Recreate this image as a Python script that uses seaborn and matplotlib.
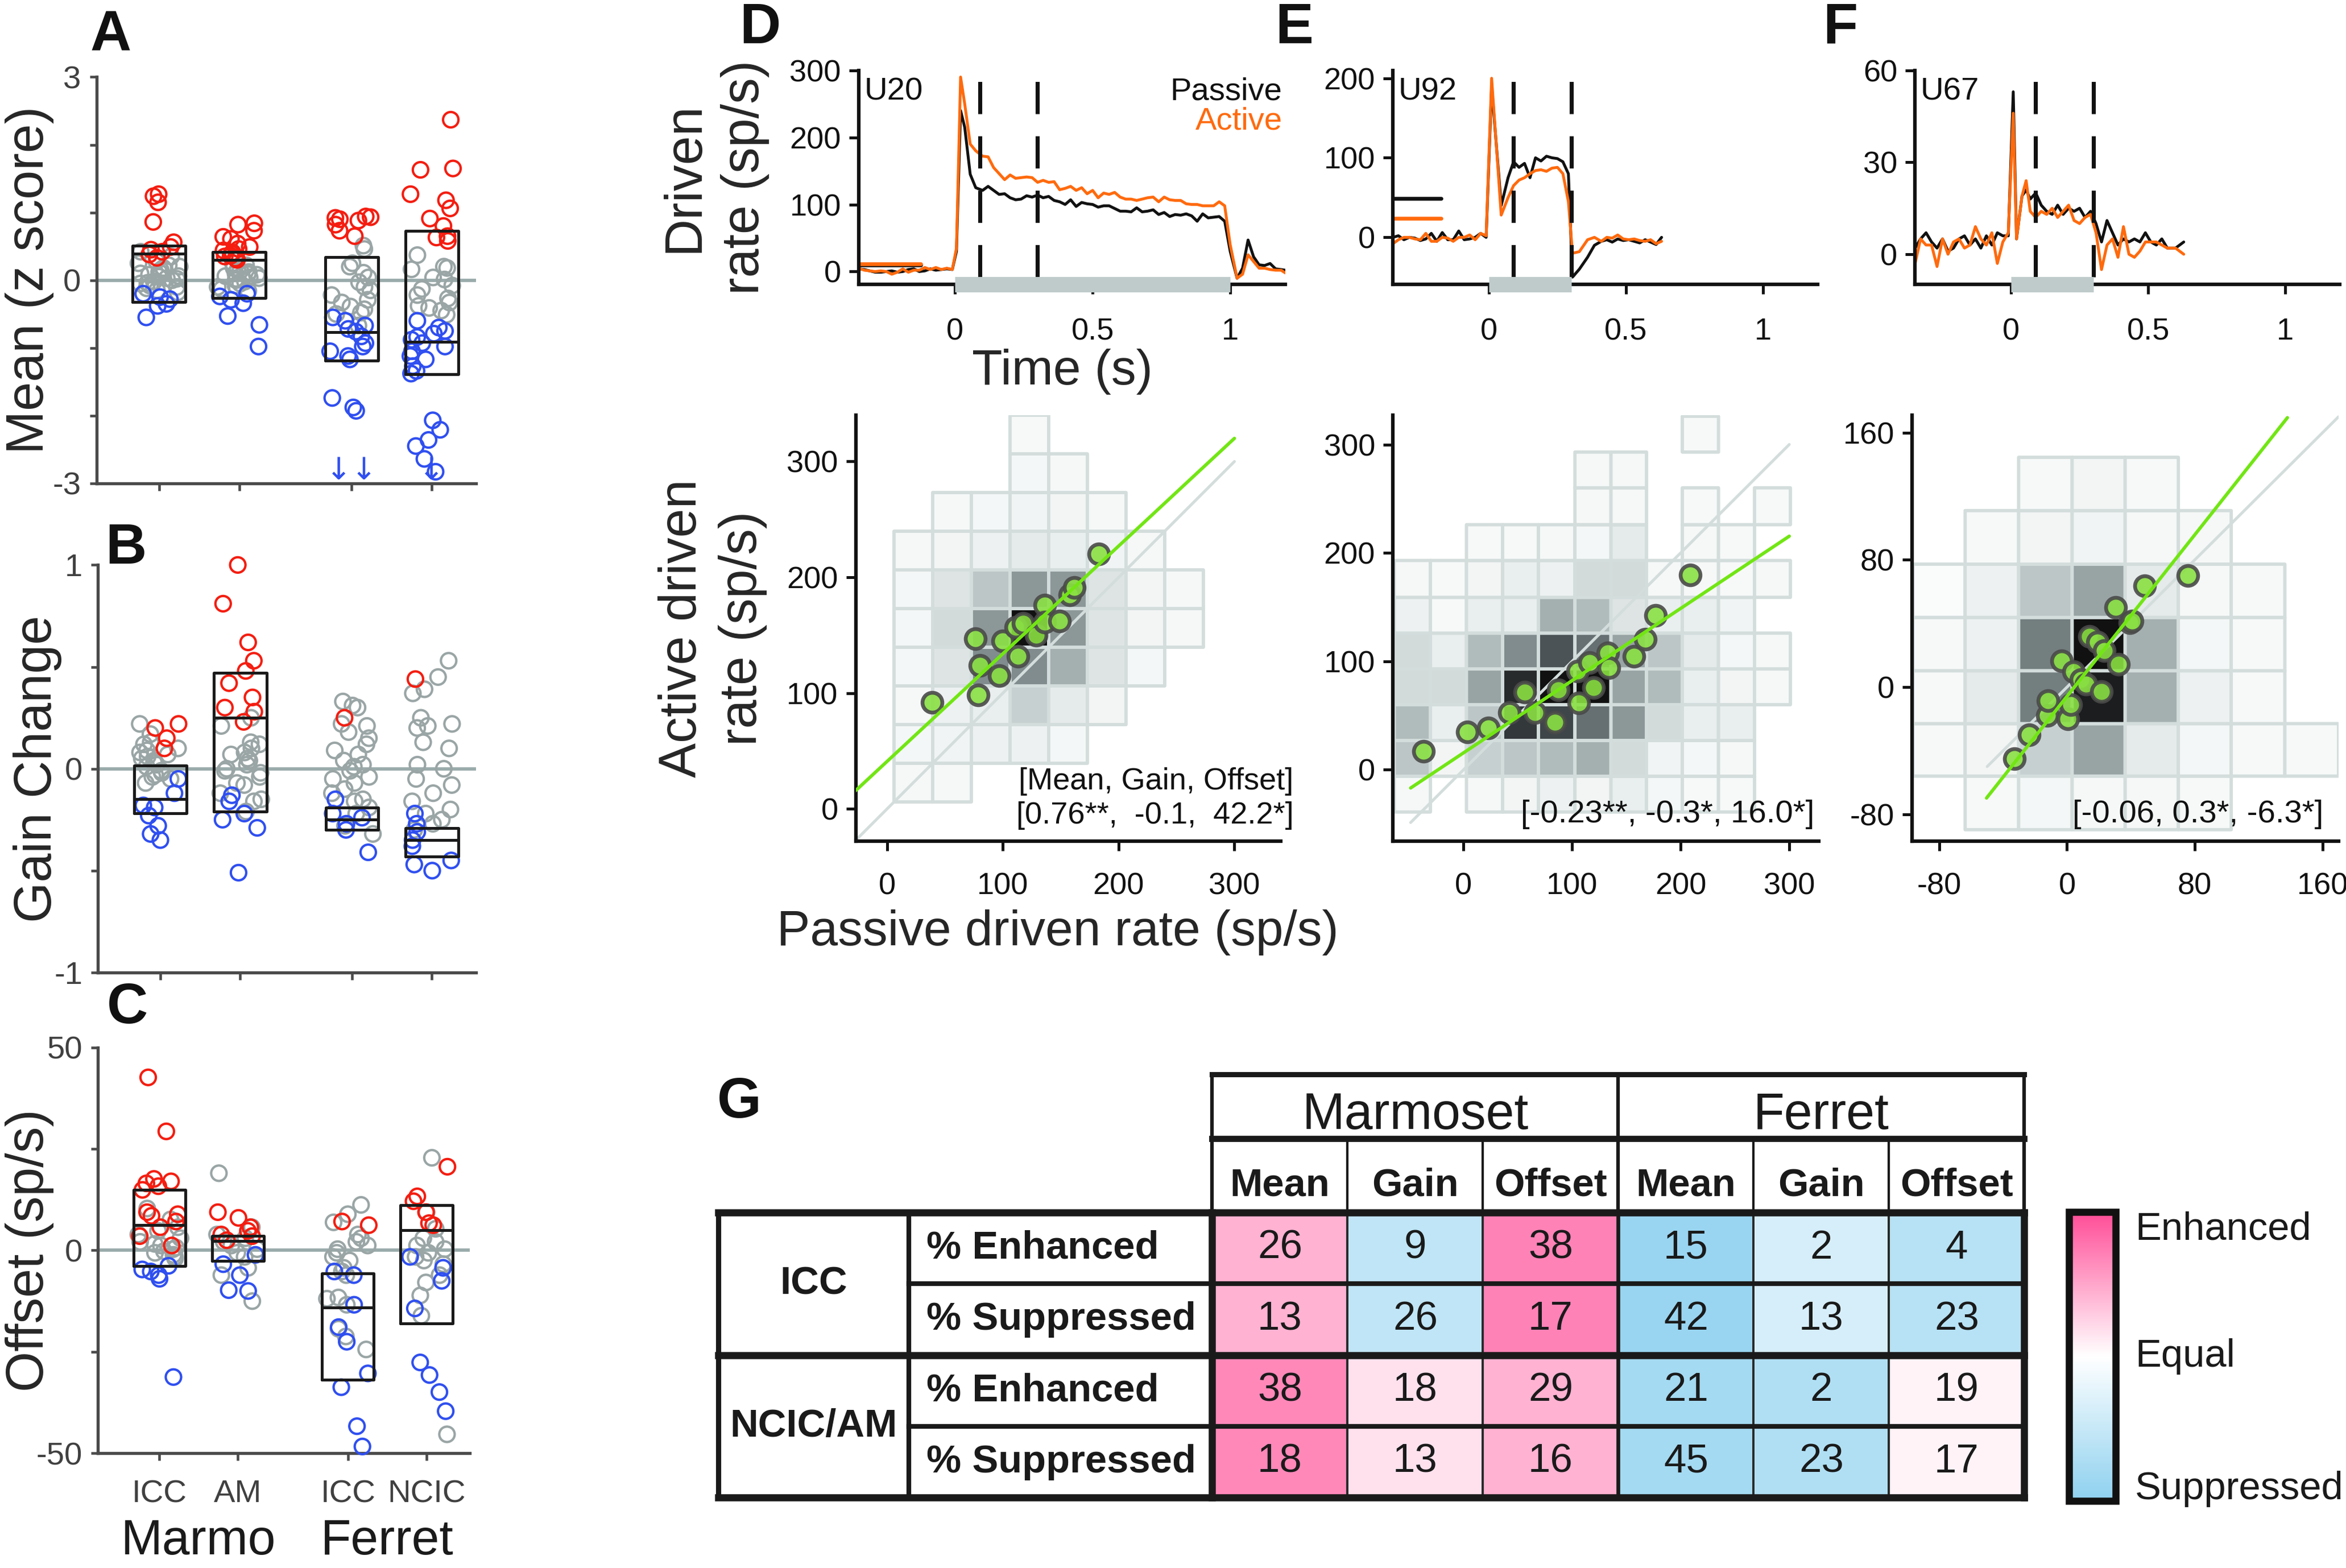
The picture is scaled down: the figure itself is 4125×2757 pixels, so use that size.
import numpy as np
import pandas as pd
import matplotlib
matplotlib.use('Agg')
from matplotlib import pyplot as plt
from matplotlib.colors import LinearSegmentedColormap, Normalize
from matplotlib.cm import ScalarMappable
import matplotlib.transforms as mtransforms
import seaborn as sns

np.random.seed(7)

# ---------------- data: panels A-C (per-neuron changes) ----------------
group_pos = [1, 2, 3.4, 4.4]
group_labels = ['ICC', 'AM', 'ICC', 'NCIC']
species = ['Marmo', 'Ferret']

a_up = [[1.27, 1.24, 1.15, 0.86, 0.56, 0.49, 0.45, 0.42, 0.38, 0.33],
        [0.84, 0.82, 0.73, 0.64, 0.61, 0.54, 0.49, 0.46, 0.44, 0.41, 0.39, 0.36, 0.35, 0.32, 0.3],
        [0.94, 0.93, 0.92, 0.9, 0.88, 0.82, 0.73, 0.65],
        [2.37, 1.65, 1.63, 1.27, 1.18, 1.06, 0.91, 0.8, 0.65, 0.63, 0.58]]
a_ns = [[0.42, 0.35, 0.28, 0.22, 0.2, 0.15, 0.12, 0.1, 0.08, 0.05, 0.03, 0.0, -0.02, -0.05, -0.08,
         -0.1, -0.12, -0.15, -0.18, 0.25, 0.18, 0.06, -0.04, 0.1, 0.02],
        [0.25, 0.22, 0.18, 0.15, 0.12, 0.1, 0.08, 0.06, 0.04, 0.02, 0.0, -0.02, -0.05, -0.08, -0.1,
         -0.13, -0.16, 0.14, 0.09, 0.03],
        [0.51, 0.46, 0.25, 0.2, 0.11, 0.04, -0.03, -0.1, -0.15, -0.22, -0.29, -0.33, -0.39, -0.43,
         -0.48, -0.5, -0.67],
        [0.37, 0.2, 0.18, 0.16, 0.04, 0.01, -0.08, -0.13, -0.22, -0.27, -0.33, -0.38, -0.41, -0.45, -0.51]]
a_dn = [[-0.2, -0.25, -0.28, -0.35, -0.38, -0.55],
        [-0.2, -0.24, -0.29, -0.34, -0.53, -0.66, -0.98],
        [-0.55, -0.6, -0.67, -0.72, -0.76, -0.83, -0.93, -0.98, -1.05, -1.12, -1.17, -1.74, -1.88, -1.93],
        [-0.6, -0.7, -0.75, -0.79, -0.84, -0.88, -0.93, -0.98, -1.05, -1.12, -1.17, -1.27, -1.34, -1.38,
         -2.07, -2.21, -2.36, -2.45, -2.64, -2.83]]
a_q1 = [-0.32, -0.26, -1.19, -1.39]
a_med = [0.39, 0.30, -0.77, -0.91]
a_q3 = [0.51, 0.42, 0.34, 0.73]
a_offscale = [0, 0, 2, 1]

b_up = [[0.22, 0.2, 0.15, 0.1],
        [1.0, 0.81, 0.62, 0.53, 0.48, 0.42, 0.35, 0.3, 0.28, 0.23],
        [0.25],
        [0.44]]
b_ns = [[0.22, 0.17, 0.13, 0.12, 0.1, 0.08, 0.07, 0.05, 0.04, 0.02, 0.01, -0.01, -0.02, -0.04, -0.05,
         -0.07, 0.09, 0.03, -0.03, 0.06],
        [0.25, 0.21, 0.13, 0.12, 0.08, 0.07, 0.05, 0.04, 0.02, -0.01, -0.02, -0.04, -0.07, -0.08, -0.12,
         -0.15, -0.16, -0.21, 0.1, 0.0],
        [0.33, 0.31, 0.3, 0.22, 0.21, 0.18, 0.15, 0.12, 0.09, 0.07, 0.04, 0.02, 0.01, -0.01, -0.04, -0.05,
         -0.07, -0.1, -0.12, -0.15, -0.16, -0.19, -0.22, -0.28, -0.32],
        [0.53, 0.45, 0.39, 0.37, 0.25, 0.22, 0.21, 0.2, 0.13, 0.1, 0.02, 0.0, -0.05, -0.08, -0.12, -0.16,
         -0.2, -0.22, -0.25, -0.27, -0.3]]
b_dn = [[-0.05, -0.12, -0.18, -0.19, -0.23, -0.28, -0.32, -0.35],
        [-0.13, -0.16, -0.22, -0.25, -0.29, -0.51],
        [-0.15, -0.22, -0.24, -0.27, -0.3, -0.41],
        [-0.22, -0.27, -0.31, -0.35, -0.38, -0.45, -0.47, -0.5]]
b_q1 = [-0.22, -0.21, -0.30, -0.43]
b_med = [-0.15, 0.25, -0.25, -0.35]
b_q3 = [0.015, 0.47, -0.19, -0.29]

c_up = [[42.6, 29.3, 17.6, 17.0, 16.5, 15.8, 14.9, 9.4, 8.9, 8.5, 7.1, 5.7, 3.5, 1.2],
        [9.4, 8.0, 5.7, 4.8, 3.9, 3.5, 2.5],
        [7.1, 6.2],
        [20.6, 13.3, 12.1, 9.4, 6.7, 6.2]]
c_ns = [[10.3, 7.6, 5.7, 4.8, 3.9, 3.0, 2.1, 1.6, 1.2, 0.7, 0.3, -0.2, -0.6, -1.1, -1.6, -2.0],
        [19.0, 5.7, 3.9, 3.0, 2.1, 1.2, 0.3, -0.6, -1.6, -4.3, -6.1, -12.5],
        [11.2, 8.9, 6.9, 3.9, 3.0, 2.1, 1.2, 0.3, -0.6, -1.6, -2.5, -4.3, -5.2, -6.1, -11.6, -11.9,
         -13.4, -19.3, -21.2, -24.4],
        [22.8, 9.4, 5.3, 3.0, 2.1, 1.2, 0.3, -0.6, -1.6, -2.5, -3.4, -6.1, -7.9, -11.1, -16.1, -45.3]]
c_dn = [[-3.8, -4.7, -5.2, -6.1, -7.0, -31.2],
        [-1.1, -3.4, -6.1, -9.8, -10.0],
        [-5.2, -6.1, -13.4, -18.9, -22.5, -30.3, -33.7, -43.3, -48.3],
        [-1.6, -4.3, -7.5, -14.3, -27.6, -30.7, -34.9, -39.6]]
c_q1 = [-3.8, -2.6, -31.8, -18.0]
c_med = [6.2, 2.3, -14.1, 5.0]
c_q3 = [14.9, 3.6, -5.7, 11.2]

# ---------------- data: PSTHs (D-F, top) ----------------
base_t = [-0.35, -0.33, -0.31, -0.29, -0.27, -0.25, -0.23, -0.21, -0.19, -0.17, -0.15, -0.13,
          -0.11, -0.09, -0.07, -0.05, -0.03, -0.01]
d_t = base_t + [0.005, 0.02, 0.035, 0.055, 0.075,
                0.10, 0.12, 0.14, 0.16, 0.18, 0.20, 0.22, 0.24, 0.26, 0.28, 0.30, 0.32, 0.34, 0.36,
                0.38, 0.40, 0.42, 0.44, 0.46, 0.48, 0.50, 0.52, 0.54, 0.56, 0.58, 0.60, 0.62, 0.64,
                0.66, 0.68, 0.70, 0.72, 0.74, 0.76, 0.78, 0.80, 0.82, 0.84, 0.86, 0.88, 0.90, 0.92,
                0.94, 0.96, 0.98, 1.00,
                1.025, 1.045, 1.065, 1.085, 1.105, 1.125, 1.145, 1.165, 1.185, 1.20]
d_passive = [4, 3, 1, -1, -1, 0, 1, -1, 0, 3, 4, 0, 1, 4, 2, 3, 4, 3,
             30, 240, 215, 145, 125,
             121, 127, 121, 115, 116, 110, 107, 108, 113, 111, 114, 110, 112, 106, 104, 100, 107, 97,
             103, 101, 100, 96, 98, 98, 94, 90, 90, 89, 95, 89, 90, 92, 85, 88, 82, 85, 84, 86, 83,
             75, 86, 80, 81, 82, 75, 30,
             -10, 5, 47, 22, 10, 9, 12, 4, 3, 2]
d_active = [5, 2, 1, 0, 1, 0, -4, -1, 4, -1, 2, 2, 6, 3, 6, 3, 5, 3,
            35, 290, 250, 190, 180,
            172, 171, 155, 146, 137, 144, 139, 140, 141, 140, 133, 136, 133, 134, 122, 124, 127, 121,
            125, 116, 121, 110, 117, 115, 118, 111, 108, 108, 106, 108, 110, 111, 104, 111, 107, 106,
            106, 101, 100, 100, 98, 98, 98, 104, 98, 40,
            -10, -4, 25, 15, 5, 5, 3, 2, 2, -2]

e_t = base_t + [0.01, 0.045, 0.07, 0.09, 0.11, 0.13, 0.15, 0.17, 0.19, 0.21, 0.23, 0.25, 0.27,
                0.29, 0.305, 0.33, 0.36, 0.385, 0.41, 0.43, 0.45, 0.47, 0.49, 0.51, 0.53, 0.55, 0.57,
                0.59, 0.61, 0.63]
e_passive = [0, 2, -3, 0, -1, -4, -2, 5, -5, 6, -3, -3, 8, -3, -2, 0, 5, 0,
             190, 40, 75, 95, 88, 93, 75, 100, 96, 102, 100, 99, 95, 80, -50, -40, -25, -10, -5, -3,
             -6, -2, -4, -3, -5, -7, -3, -6, -9, 0]
e_active = [-8, -3, 0, 0, -2, -3, 5, -5, -5, 0, -1, -5, 0, 0, 3, -3, 5, 2,
            200, 28, 50, 65, 72, 75, 80, 84, 85, 83, 87, 88, 80, 45, -20, -18, -3, 0, -5, 0, -1, 3,
            -2, -3, -2, -4, -5, -3, -8, -5]

f_t = base_t + [0.008, 0.02, 0.04, 0.055, 0.07, 0.09, 0.11, 0.13, 0.15, 0.17, 0.19, 0.21, 0.23,
                0.25, 0.27, 0.29, 0.31, 0.33, 0.35, 0.37, 0.39, 0.41, 0.43, 0.45, 0.47, 0.49, 0.51,
                0.53, 0.55, 0.57, 0.60, 0.63]
f_passive = [2, 5, 7, 4, 2, 5, 1, 2, 5, 6, 3, 5, 2, 6, 3, 7, 6, 6,
             53, 5, 19, 21, 18, 20, 16, 14, 13, 16, 13, 15, 14, 15, 12, 14, 10, 4, 11, 7, 3, 5, 4, 5,
             4, 7, 4, 3, 5, 2, 2, 4]
f_active = [-3, 5, 3, 3, -4, 5, 0, 4, 5, 2, 3, 9, 5, 3, 7, -3, 4, 7,
            46, 5, 19, 24, 14, 12, 14, 13, 15, 12, 14, 16, 11, 10, 12, 13, 7, -5, 3, 5, -1, 9, 0, -1,
            1, 4, 4, 4, 3, 2, 2, 0]

unit_names = ['U20', 'U92', 'U67']
stim_off = [1.0, 0.3, 0.3]
window = [0.09, 0.3]
spont_passive = [10, 49, None]
spont_active = [11, 24, None]
spont_end = [-0.125, -0.175, None]

# ---------------- data: population histograms + example units (D-F, bottom) ----------------
d_edges = [-27.4, 6, 39.4, 72.8, 106.2, 139.6, 173, 206.4, 239.8, 273.2, 306.6, 340]
d_hist = [[0, 0, 0, 0, 0, 0, 0, 0, 0, 0, 0],
          [0, .03, .03, 0, 0, 0, 0, 0, 0, 0, 0],
          [0, .04, .06, .08, .08, .04, 0, 0, 0, 0, 0],
          [0, .03, .08, .1, .25, .12, .05, 0, 0, 0, 0],
          [0, .04, .15, .55, .55, .4, .15, .04, 0, 0, 0],
          [0, .04, .2, .5, 1.0, .5, .15, .05, .03, 0, 0],
          [0, .04, .15, .3, .5, .5, .15, .05, .03, 0, 0],
          [0, .03, .05, .08, .12, .1, .06, .03, 0, 0, 0],
          [0, 0, .03, .04, .06, .05, .03, 0, 0, 0, 0],
          [0, 0, 0, 0, .04, .03, 0, 0, 0, 0, 0],
          [0, 0, 0, 0, .02, 0, 0, 0, 0, 0, 0]]
e_xedges = [-63.8, -30.5, 2.7, 36, 69, 102.6, 135.8, 168.5, 201.5, 234.8, 268, 301]
e_yedges = [-39, -6, 27, 60, 93, 126, 159, 193, 226, 260, 293, 326]
e_hist = [[.03, 0, .03, .05, .08, .05, .1, .04, .02, .02, 0],
          [.3, .05, .25, .3, .35, .4, .2, .06, .04, .03, 0],
          [.35, .1, .3, .85, .8, .65, .5, .2, .1, .1, 0],
          [.2, .2, .45, .9, 1.0, 1.0, .45, .35, .1, .05, .03],
          [.2, .1, .35, .55, .75, .65, .45, .3, .12, .04, .03],
          [.08, .02, .1, .1, .4, .35, .15, .1, .1, .06, 0],
          [.03, .02, .05, .1, .08, .2, .2, .03, .03, .02, .03],
          [0, 0, .02, .02, .03, .04, .12, 0, .03, .02, 0],
          [0, 0, 0, 0, 0, .03, .03, 0, .02, 0, .02],
          [0, 0, 0, 0, 0, .03, .03, 0, 0, 0, 0],
          [0, 0, 0, 0, 0, 0, 0, 0, .02, 0, 0]]
f_xedges = [-96.5, -63.8, -30.3, 3.2, 36.4, 69.7, 102.8, 136.4, 170]
f_yedges = [-89.7, -56, -23, 10.3, 43.8, 77.3, 111, 144.5]
f_hist = [[0, .02, .04, .03, .03, .02, 0, 0],
          [.02, .05, .25, .45, .12, .04, .02, .02],
          [.02, .12, .6, .95, .4, .08, .02, 0],
          [.02, .08, .6, 1.0, .4, .04, .02, 0],
          [.01, .08, .3, .45, .12, .03, .02, 0],
          [0, .02, .05, .06, .03, .03, 0, 0],
          [0, 0, .02, .05, .02, 0, 0, 0]]

d_pass = [39, 76.5, 80, 78.6, 100, 97, 113, 111, 117.5, 129, 136, 136, 149, 157.6, 161.7, 183]
d_act = [92, 147, 124, 98.6, 145, 115, 131.6, 157, 160, 150, 176, 161, 162, 185, 191, 220]
e_pass = [-36.6, 3.6, 23, 42, 56.5, 66, 84, 87.4, 106, 105, 116, 120, 133, 133.7, 157, 167.5, 177, 209]
e_act = [17, 34.7, 38.7, 52.5, 71.7, 52.5, 44, 73.4, 61.6, 91, 98.6, 75.8, 107.7, 94, 104.7, 120.5,
         142.4, 179.5]
f_pass = [-33, -23.5, -12.3, -11.9, 0.4, 2.5, -3.4, 4, 8.9, 12, 21.6, 14.2, 18.9, 23.3, 32.2, 30.5,
          39.2, 40.7, 48.5, 75.6]
f_act = [-45, -30, -17.7, -8.5, -20, -11, 16.5, 9.6, 4.6, 1.8, -2.8, 32, 28.2, 23, 14.4, 50, 40.6,
         41.7, 63.8, 70]

fit_slope = [0.93, 0.666, 1.27]
fit_intercept = [41, 15.6, -5.8]
fit_range = [(-27, 300), (-48.7, 300), (-50.4, 138)]
unity_range = [(-27, 300), (-48.7, 300), (-50, 170)]
fit_text = ['[Mean, Gain, Offset]\n[0.76**,  -0.1,  42.2*]', '[-0.23**, -0.3*, 16.0*]',
            '[-0.06, 0.3*, -6.3*]']

# ---------------- data: table G ----------------
param_names = ['Mean', 'Gain', 'Offset', 'Mean', 'Gain', 'Offset']
icc_enhanced = [26, 9, 38, 15, 2, 4]
icc_suppressed = [13, 26, 17, 42, 13, 23]
ncic_enhanced = [38, 18, 29, 21, 2, 19]
ncic_suppressed = [18, 13, 16, 45, 23, 17]

# ---------------- style ----------------
sns.set_style('ticks')
plt.rcParams['font.family'] = ['Liberation Sans', 'DejaVu Sans']
plt.rcParams['axes.unicode_minus'] = False
plt.rcParams['font.size'] = 13

RED, BLUE, GRAY = '#f41d10', '#2f4ff0', '#9aa5a5'
ORANGE = '#ff6a0d'
DARK = '#1a1a1a'

fig = plt.figure(figsize=(13.75, 9.19))
W, H = 1568, 1048


def box(l, t, r, b):
    return [l / W, 1 - b / H, (r - l) / W, (b - t) / H]


def strip_panel(ax, up, ns, dn, q1, med, q3):
    rows = []
    for pos, u, n, d in zip(group_pos, up, ns, dn):
        rows += [(pos, v, 'ns') for v in n]
        rows += [(pos, v, 'down') for v in d]
        rows += [(pos, v, 'up') for v in u]
    df = pd.DataFrame(rows, columns=['pos', 'value', 'sig'])
    sns.stripplot(data=df, x='pos', y='value', hue='sig', hue_order=['ns', 'down', 'up'],
                  palette={'ns': GRAY, 'down': BLUE, 'up': RED}, native_scale=True,
                  orient='x', jitter=0.27, size=6.5, linewidth=1.0, legend=False, ax=ax)
    for coll in ax.collections:
        fc = coll.get_facecolors()
        coll.set_edgecolors(fc)
        coll.set_facecolors('none')
        coll.set_clip_on(False)
    ax.axhline(0, color='#9aabab', lw=1.4, zorder=0)
    stats = [dict(med=m, q1=a, q3=b, whislo=a, whishi=b) for a, m, b in zip(q1, med, q3)]
    ax.bxp(stats, positions=group_pos, widths=0.66, showfliers=False, showcaps=False,
           manage_ticks=False, zorder=4,
           boxprops=dict(color=DARK, linewidth=1.2), medianprops=dict(color=DARK, linewidth=1.2),
           whiskerprops=dict(linewidth=0))
    ax.set_xlim(0.22, 4.95)
    ax.set_xticks(group_pos)
    ax.set_xticklabels([])
    sns.despine(ax=ax)
    for s in ['left', 'bottom']:
        ax.spines[s].set_color('#4a4a4a')
        ax.spines[s].set_linewidth(1.3)
    ax.tick_params(colors='#4a4a4a', labelcolor='#404040', labelsize=13.5, length=3, width=1.1)
    ax.set_xlabel('')


# A
axA = fig.add_axes(box(64.5, 51.5, 318, 323))
strip_panel(axA, a_up, a_ns, a_dn, a_q1, a_med, a_q3)
axA.set_ylim(-3, 3)
axA.set_yticks([-3, -2, -1, 0, 1, 2, 3])
axA.set_yticklabels(['-3', '', '', '0', '', '', '3'])
axA.set_ylabel('Mean (z score)', fontsize=22)
axA.yaxis.set_label_coords(-0.112, 0.5)
for pos, n in zip(group_pos, a_offscale):
    if n:
        axA.text(pos, -2.82, '\u2193' * n, color=BLUE, ha='center', va='center', fontsize=13,
                 family=['DejaVu Sans'])

# B
axB = fig.add_axes(box(65.5, 377.6, 318, 650))
strip_panel(axB, b_up, b_ns, b_dn, b_q1, b_med, b_q3)
axB.set_ylim(-1, 1)
axB.set_yticks([-1, -0.5, 0, 0.5, 1])
axB.set_yticklabels(['-1', '', '0', '', '1'])
axB.set_ylabel('Gain Change', fontsize=22)
axB.yaxis.set_label_coords(-0.096, 0.5)

# C
axC = fig.add_axes(box(65.5, 700, 314, 971.4))
strip_panel(axC, c_up, c_ns, c_dn, c_q1, c_med, c_q3)
axC.set_ylim(-50, 50)
axC.set_yticks([-50, -25, 0, 25, 50])
axC.set_yticklabels(['-50', '', '0', '', '50'])
axC.set_xticklabels(group_labels)
axC.tick_params(axis='x', pad=8)
axC.set_ylabel('Offset (sp/s)', fontsize=22)
axC.yaxis.set_label_coords(-0.118, 0.5)
trans = mtransforms.blended_transform_factory(axC.transData, axC.transAxes)
for name, pair in zip(species, [group_pos[:2], group_pos[2:]]):
    axC.text(np.mean(pair), -0.16, name, transform=trans, ha='center', va='top', fontsize=21,
             color=DARK)

# ---------------- PSTHs ----------------
top_boxes = [box(574, 47, 859, 190), box(931, 47, 1215, 190), box(1280, 47, 1564, 190)]
psth_t = [d_t, e_t, f_t]
psth_passive = [d_passive, e_passive, f_passive]
psth_active = [d_active, e_active, f_active]
psth_ylim = [(-19, 300), (-59, 210), (-9.8, 60)]
psth_yticks = [[0, 100, 200, 300], [0, 100, 200], [0, 30, 60]]

for i in range(3):
    ax = fig.add_axes(top_boxes[i])
    sns.lineplot(x=psth_t[i], y=psth_passive[i], color='#111111', lw=1.2, ax=ax,
                 estimator=None, sort=False)
    sns.lineplot(x=psth_t[i], y=psth_active[i], color=ORANGE, lw=1.2, ax=ax,
                 estimator=None, sort=False)
    if spont_passive[i] is not None:
        ax.plot([-0.35, spont_end[i]], [spont_passive[i]] * 2, color='#111111', lw=1.6)
        ax.plot([-0.35, spont_end[i]], [spont_active[i]] * 2, color=ORANGE, lw=1.6)
    for w in window:
        ax.axvline(w, ymin=0.033, ymax=0.948, color='#111111', lw=1.7, dashes=(8, 5.5))
    bt = mtransforms.blended_transform_factory(ax.transData, ax.transAxes)
    ax.plot([0, stim_off[i]], [0, 0], transform=bt, color='#bfcbcb', lw=6.5,
            solid_capstyle='butt', clip_on=False, zorder=6)
    ax.set_xlim(-0.35, 1.2)
    ax.set_ylim(*psth_ylim[i])
    ax.set_yticks(psth_yticks[i])
    ax.set_xticks([0, 0.5, 1])
    ax.set_xticklabels(['0', '0.5', '1'])
    sns.despine(ax=ax)
    for s in ['left', 'bottom']:
        ax.spines[s].set_linewidth(1.5)
        ax.spines[s].set_color('#111111')
    ax.tick_params(axis='both', labelsize=13, length=4, width=1.2, colors='#111111')
    ax.tick_params(axis='x', pad=10)
    ax.text(0.013, 0.9, unit_names[i], transform=ax.transAxes, ha='left', va='center',
            fontsize=13.5, color='#111111')
    if i == 0:
        ax.text(0.993, 0.9, 'Passive', transform=ax.transAxes, ha='right', va='center',
                fontsize=13.5, color='#111111')
        ax.text(0.993, 0.762, 'Active', transform=ax.transAxes, ha='right', va='center',
                fontsize=13.5, color=ORANGE)
        ax.set_ylabel('Driven\nrate (sp/s)', fontsize=22, linespacing=1.3)
        ax.yaxis.set_label_coords(-0.21, 0.5)
        ax.set_xlabel('Time (s)', fontsize=21)
        ax.xaxis.set_label_coords(0.477, -0.3)

# ---------------- scatter over population histogram ----------------
dens_cmap = LinearSegmentedColormap.from_list(
    'dens', [(0, '#fbfcfc'), (0.1, '#e9eeee'), (0.3, '#bcc6c6'), (0.55, '#808c8d'),
             (0.8, '#3f4649'), (1, '#111111')])
bot_boxes = [box(572, 277.5, 856, 562.3), box(931, 277.5, 1215.5, 562.3),
             box(1278, 277.5, 1563, 562.3)]
hist_xedges = [d_edges, e_xedges, f_xedges]
hist_yedges = [d_edges, e_yedges, f_yedges]
hists = [d_hist, e_hist, f_hist]
pts_x = [d_pass, e_pass, f_pass]
pts_y = [d_act, e_act, f_act]
lims = [(-27, 340), (-65, 327), (-97, 170)]
ylims = [(-28, 340), (-66, 327), (-97, 171)]
ticks = [[0, 100, 200, 300], [0, 100, 200, 300], [-80, 0, 80, 160]]

for i in range(3):
    ax = fig.add_axes(bot_boxes[i])
    h = np.ma.masked_equal(np.array(hists[i], dtype=float), 0)
    ax.pcolor(hist_xedges[i], hist_yedges[i], h, cmap=dens_cmap, vmin=0, vmax=1,
              edgecolors='#d3dddc', linewidth=1.4, zorder=1)
    ux = np.array(unity_range[i])
    ax.plot(ux, ux, color='#d3dddc', lw=1.2, zorder=2)
    fx = np.array(fit_range[i])
    sns.scatterplot(x=pts_x[i], y=pts_y[i], color='#8ae043', edgecolor='#4a4a4a', linewidth=1.6,
                    s=70, alpha=0.9, ax=ax, zorder=3, legend=False)
    ax.plot(fx, fit_intercept[i] + fit_slope[i] * fx, color='#72e614', lw=1.4, zorder=4)
    ax.set_xlim(*lims[i])
    ax.set_ylim(*ylims[i])
    ax.set_xticks(ticks[i])
    ax.set_yticks(ticks[i])
    sns.despine(ax=ax)
    for s in ['left', 'bottom']:
        ax.spines[s].set_linewidth(1.5)
        ax.spines[s].set_color('#111111')
    ax.tick_params(axis='both', labelsize=13, length=4, width=1.2, colors='#111111')
    ax.tick_params(axis='x', pad=9)
    if i == 0:
        ax.text(1.03, 0.1, fit_text[i], transform=ax.transAxes, ha='right', va='center',
                fontsize=13, linespacing=1.25, color='#111111')
        ax.set_ylabel('Active driven\nrate (sp/s)', fontsize=22, linespacing=1.3)
        ax.yaxis.set_label_coords(-0.208, 0.5)
        ax.set_xlabel('Passive driven rate (sp/s)', fontsize=21)
        ax.xaxis.set_label_coords(0.475, -0.16)
    else:
        right = 0.99 if i == 1 else 0.964
        ax.text(right, 0.0625, fit_text[i], transform=ax.transAxes, ha='right', va='center',
                fontsize=13.5, color='#111111')

# ---------------- table G ----------------
pct = np.array([icc_enhanced, icc_suppressed, ncic_enhanced, ncic_suppressed])
tone_icc = np.array(icc_enhanced) - np.array(icc_suppressed)
tone_ncic = np.array(ncic_enhanced) - np.array(ncic_suppressed)
tone = np.array([tone_icc, tone_icc, tone_ncic, tone_ncic])
pb_cmap = LinearSegmentedColormap.from_list('pb', ['#8ed1ef', '#ffffff', '#ff4d97'])

axG = fig.add_axes(box(480, 718, 1353, 1001))
sns.heatmap(tone, ax=axG, cmap=pb_cmap, vmin=-30, vmax=30, cbar=False, annot=pct, fmt='d',
            annot_kws={'size': 17, 'color': DARK}, linewidths=0.9, linecolor='#2a2a2a')
XL, XM = -3.65, -2.24
YT, YM = -1.94, -1.04
axG.set_xlim(XL, 6)
axG.set_ylim(4, YT)
axG.axis('off')


def seg(x0, x1, y0, y1, lw):
    axG.plot([x0, x1], [y0, y1], color=DARK, lw=lw, clip_on=False, solid_capstyle='projecting')


seg(0, 6, YT, YT, 2.2)
seg(0, 6, YM, YM, 2.6)
for x in [0, 3, 6]:
    seg(x, x, YT, 0, 1.5)
for x in [1, 2, 4, 5]:
    seg(x, x, YM, 0, 1.0)
seg(XL, 6, 0, 0, 3.0)
seg(XL, 6, 4, 4, 3.0)
seg(XL, 6, 2, 2, 3.0)
seg(XM, 6, 1, 1, 2.0)
seg(XM, 6, 3, 3, 2.0)
seg(XL, XL, 0, 4, 2.2)
seg(XM, XM, 0, 4, 2.0)
seg(0, 0, 0, 4, 3.0)
seg(6, 6, 0, 4, 3.0)
seg(3, 3, 0, 4, 1.6)

for k, name in enumerate(['Marmoset', 'Ferret']):
    axG.text(1.5 + 3 * k, (YT + YM) / 2 + 0.13, name, ha='center', va='center', fontsize=21.5,
             color=DARK)
for j, name in enumerate(param_names):
    axG.text(j + 0.5, YM / 2 + 0.14, name, ha='center', va='center', fontsize=16.5,
             fontweight='bold', color=DARK)
for k, name in enumerate(['ICC', 'NCIC/AM']):
    axG.text((XL + XM) / 2, 1 + 2 * k, name, ha='center', va='center', fontsize=16.5,
             fontweight='bold', color=DARK)
    axG.text(XM + 0.13, 0.5 + 2 * k, '% Enhanced', ha='left', va='center', fontsize=16.5,
             fontweight='bold', color=DARK)
    axG.text(XM + 0.13, 1.5 + 2 * k, '% Suppressed', ha='left', va='center', fontsize=16.5,
             fontweight='bold', color=DARK)

cax = fig.add_axes(box(1383, 810, 1414, 1003))
cb = fig.colorbar(ScalarMappable(norm=Normalize(-30, 30), cmap=pb_cmap), cax=cax)
cb.set_ticks([])
cb.outline.set_linewidth(3)
cb.outline.set_edgecolor('#111111')
for y, lab in zip([0.94, 0.5, 0.04], ['Enhanced', 'Equal', 'Suppressed']):
    cax.text(1.42, y, lab, transform=cax.transAxes, ha='left', va='center', fontsize=16.5,
             color=DARK)

# ---------------- panel letters ----------------
for lab, (x, y) in zip('ABCDEFG', [(74, 24), (84, 367), (85, 674), (508, 19), (865, 19),
                                   (1230, 19), (494, 737)]):
    fig.text(x / W, 1 - y / H, lab, ha='center', va='center', fontsize=24, fontweight='bold',
             color='#111111')

fig.savefig('out.png', dpi=300)
